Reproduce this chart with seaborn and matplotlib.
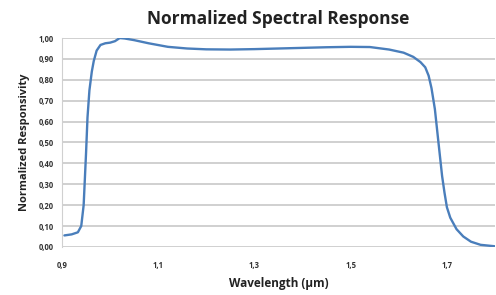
import numpy as np
import pandas as pd
import matplotlib
matplotlib.use('Agg')
import matplotlib.pyplot as plt
from matplotlib.ticker import FuncFormatter
import seaborn as sns

# Values
wavelength = [0.905, 0.92, 0.933, 0.940, 0.945, 0.950, 0.953, 0.957, 0.962, 0.966,
              0.972, 0.980, 0.990, 1.000, 1.010, 1.020, 1.030, 1.050, 1.080, 1.120,
              1.160, 1.200, 1.250, 1.300, 1.350, 1.400, 1.450, 1.500, 1.540, 1.580,
              1.610, 1.630, 1.645, 1.655, 1.662, 1.668, 1.675, 1.682, 1.690, 1.695,
              1.700, 1.707, 1.720, 1.734, 1.750, 1.770, 1.800]
responsivity = [0.055, 0.06, 0.07, 0.10, 0.20, 0.45, 0.62, 0.75, 0.84, 0.89,
                0.94, 0.967, 0.975, 0.978, 0.985, 1.000, 0.998, 0.99, 0.975, 0.958,
                0.950, 0.946, 0.945, 0.947, 0.950, 0.953, 0.956, 0.958, 0.957, 0.945,
                0.930, 0.910, 0.885, 0.86, 0.82, 0.76, 0.66, 0.51, 0.34, 0.26,
                0.19, 0.14, 0.085, 0.05, 0.025, 0.01, 0.003]
x_ticks = [0.9, 1.1, 1.3, 1.5, 1.7]
y_ticks = [0.0, 0.1, 0.2, 0.3, 0.4, 0.5, 0.6, 0.7, 0.8, 0.9, 1.0]

df = pd.DataFrame({'Wavelength': wavelength, 'Responsivity': responsivity})

sns.set_style('white')
plt.rcParams['font.family'] = ['Open Sans', 'DejaVu Sans']

fig = plt.figure(figsize=(4.96, 2.95), dpi=100)
ax = fig.add_axes([0.125, 0.163, 0.873, 0.708])

# Horizontal gridlines
for y in y_ticks:
    ax.axhline(y, color='#d0d0d0', lw=1.4, zorder=0)

sns.lineplot(data=df, x='Wavelength', y='Responsivity', ax=ax,
             color='#4a7ebb', lw=1.7, zorder=3)

ax.set_xlim(0.9, 1.8)
ax.set_ylim(0.0, 1.0)
ax.set_xticks(x_ticks)
ax.set_yticks(y_ticks)
ax.xaxis.set_major_formatter(FuncFormatter(lambda v, p: f'{v:.1f}'.replace('.', ',')))
ax.yaxis.set_major_formatter(FuncFormatter(lambda v, p: f'{v:.2f}'.replace('.', ',')))
ax.tick_params(axis='both', labelsize=5.5, length=0, colors='#333333')
for lbl in ax.get_xticklabels() + ax.get_yticklabels():
    lbl.set_fontweight('bold')
ax.tick_params(axis='x', pad=10)
ax.tick_params(axis='y', pad=6)

for s in ax.spines.values():
    s.set_visible(False)
ax.spines['left'].set_visible(True)
ax.spines['left'].set_color('#d0d0d0')

ax.set_xlabel('Wavelength (µm)', fontsize=8.5, fontweight='bold', color='#222222', labelpad=5)
ax.set_ylabel('Normalized Responsivity', fontsize=8, fontweight='bold', color='#222222', labelpad=6)
fig.text(0.56, 0.937, 'Normalized Spectral Response', ha='center', va='center',
         fontsize=12.5, fontweight='bold', color='#222222')

fig.savefig('out.png', dpi=100)
